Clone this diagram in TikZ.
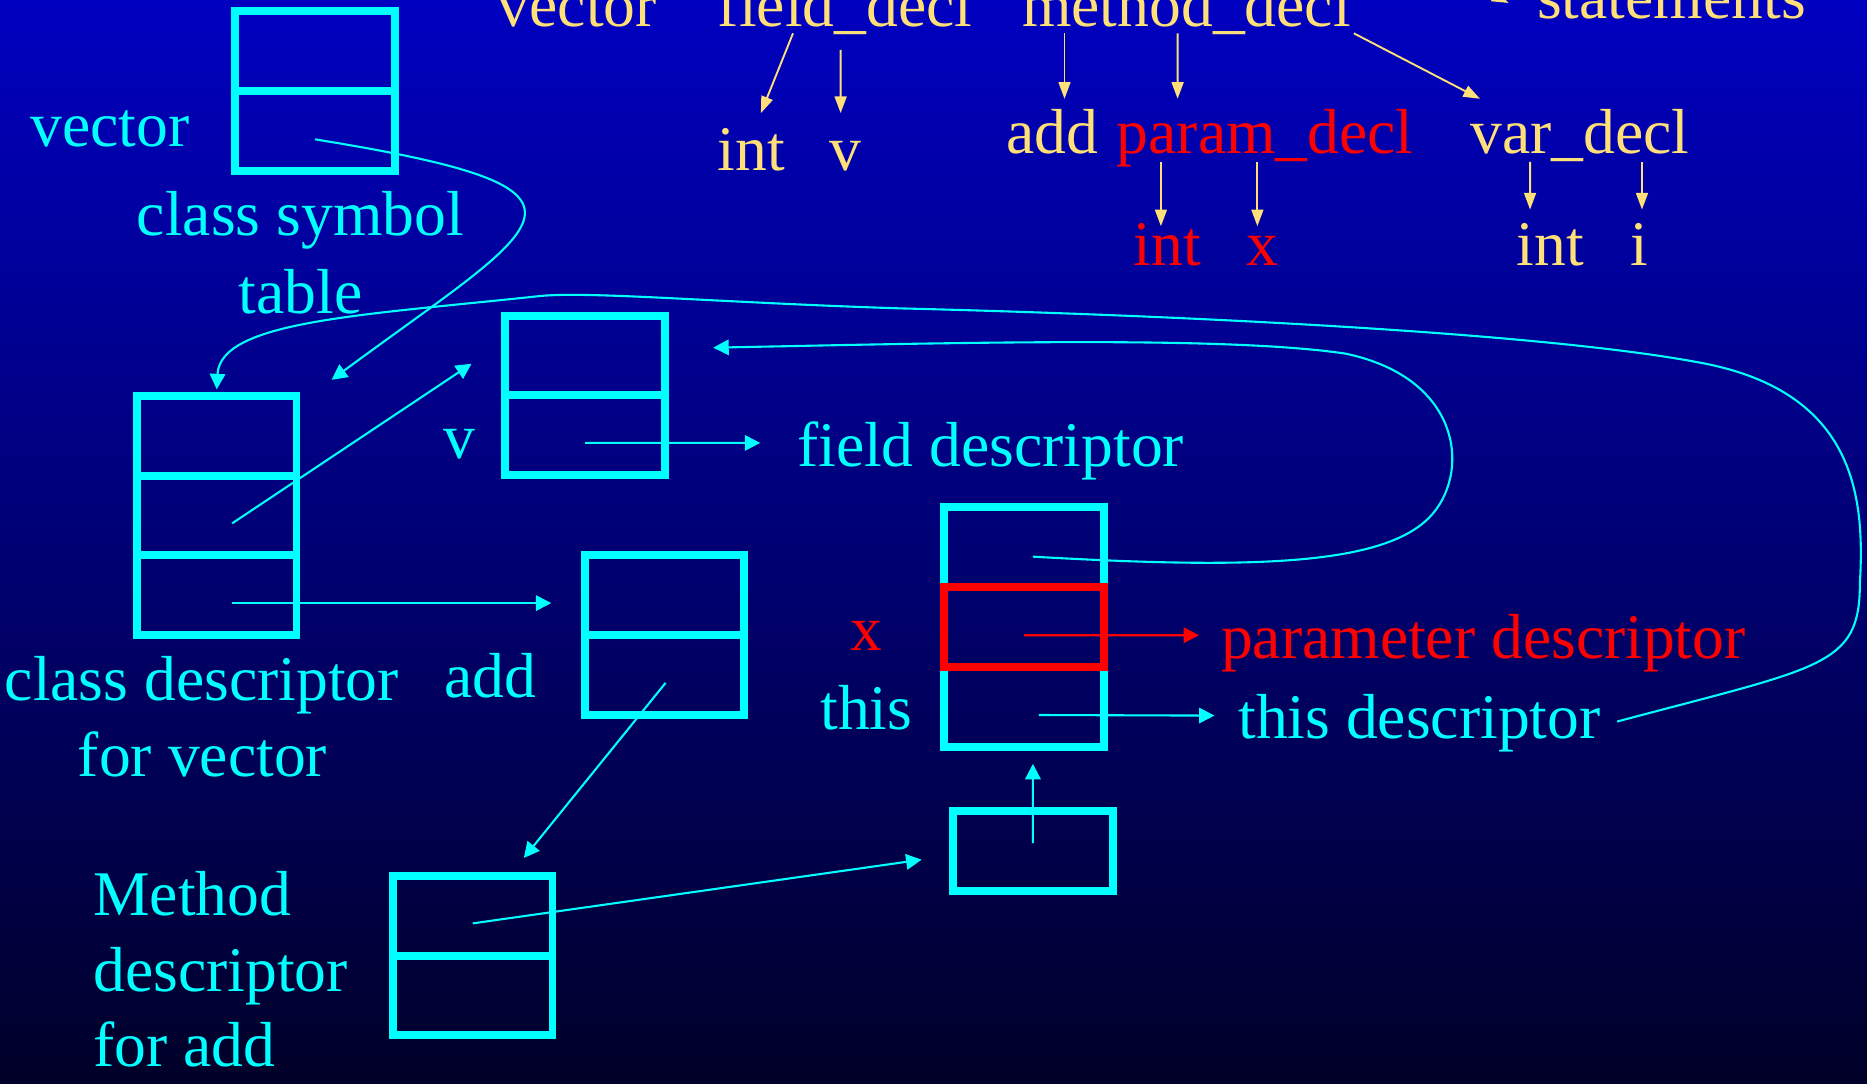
\documentclass[tikz,border=0pt]{standalone}
\usepackage{fontspec}
\setmainfont{Liberation Serif}
\usetikzlibrary{arrows.meta,calc}
\definecolor{aqua}{RGB}{0,255,255}
\definecolor{hired}{RGB}{255,0,0}
\definecolor{pale}{RGB}{255,224,120}
\definecolor{bgtop}{RGB}{0,0,192}
\definecolor{bgbot}{RGB}{0,0,40}
\tikzset{
	cell/.style={draw=aqua, line width=1.9pt, minimum width=1.34cm, minimum height=0.67cm, inner sep=0pt, outer sep=0pt},
	redcell/.style={cell, draw=hired},
	txt/.style={inner sep=0pt, outer sep=0pt, anchor=base west, font=\fontsize{15.2}{18}\selectfont},
	cy/.style={txt, text=aqua},
	ye/.style={txt, text=pale},
	rd/.style={txt, text=hired},
	ptr/.style={draw=aqua, line width=0.5pt, -{Triangle[length=0.13cm,width=0.13cm]}},
	rptr/.style={ptr, draw=hired},
	yptr/.style={draw=pale, line width=0.45pt, -{Triangle[length=0.14cm,width=0.1cm]}}
}

\begin{document}
\begin{tikzpicture}
	\useasboundingbox (0,0) rectangle (15.68,-9.10);
	\clip (0,0) rectangle (15.68,-9.10);
	\shade[top color=bgtop, bottom color=bgbot] (0,0) rectangle (15.68,-9.10);

	\node[ye] (topvec) at (4.18,-0.22) {vector};
	\node[ye] (fdecl) at (6.03,-0.22) {field\_decl};
	\node[ye] (mdecl) at (8.585,-0.22) {method\_decl};
	\node[ye] (stmt) at (12.91,-0.155) {statements};
	\node[ye] (intf) at (6.03,-1.43) {int};
	\node[ye] (vf) at (6.97,-1.43) {v};
	\node[ye] (addt) at (8.455,-1.29) {add};
	\node[rd] (pdecl) at (9.38,-1.29) {param\_decl};
	\node[ye] (vdecl) at (12.35,-1.29) {var\_decl};
	\node[rd] (intp) at (9.52,-2.23) {int};
	\node[rd] (xp) at (10.47,-2.23) {x};
	\node[ye] (intv) at (12.74,-2.23) {int};
	\node[ye] (iv) at (13.69,-2.23) {i};
	\coordinate (mroot) at (11.80,0.40);

	\draw[yptr] ($(fdecl.base west)+(0.63,-0.06)$) -- ($(intf.base west)+(0.36,0.48)$);
	\draw[yptr] ($(fdecl.base west)+(1.03,-0.20)$) -- ($(vf.base west)+(0.09,0.48)$);
	\draw[yptr] ($(mdecl.base west)+(0.355,-0.06)$) -- ($(addt.base west)+(0.485,0.46)$);
	\draw[yptr] ($(mdecl.base west)+(1.305,-0.06)$) -- ($(pdecl.base west)+(0.51,0.46)$);
	\draw[yptr] ($(mdecl.base west)+(2.785,-0.06)$) -- ($(vdecl.base west)+(0.08,0.46)$);
	\draw[yptr] ($(pdecl.base west)+(0.37,-0.07)$) -- ($(intp.base west)+(0.23,0.33)$);
	\draw[yptr] ($(pdecl.base west)+(1.18,-0.07)$) -- ($(xp.base west)+(0.09,0.33)$);
	\draw[yptr] ($(vdecl.base west)+(0.50,-0.07)$) -- ($(intv.base west)+(0.11,0.47)$);
	\draw[yptr] ($(vdecl.base west)+(1.44,-0.07)$) -- ($(iv.base west)+(0.10,0.47)$);
	\draw[yptr] (mroot) -- ($(stmt.base west)+(-0.24,0.13)$);

	\node[cy] (veclbl) at (0.255,-1.23) {vector};
	\node[cy] (cstlbl) at (1.15,-1.98) {class symbol};
	\node[cy] (cstlblb) at (2.005,-2.63) {table};
	\node[cy] (vlbl) at (3.725,-3.85) {v};
	\node[cy] (fdesc) at (6.695,-3.92) {field descriptor};
	\node[cy] (cdlbl) at (0.04,-5.88) {class descriptor};
	\node[cy] (cdlblb) at (0.655,-6.525) {for vector};
	\node[cy] (addlbl) at (3.735,-5.86) {add};
	\node[rd] (xlbl) at (7.14,-5.46) {x};
	\node[cy] (thislbl) at (6.89,-6.13) {this};
	\node[rd] (pdesc) at (10.255,-5.53) {parameter descriptor};
	\node[cy] (tdesc) at (10.40,-6.20) {this descriptor};
	\node[cy] (mdlbl) at (0.784,-7.685) {Method};
	\node[cy] (mdlblb) at (0.784,-8.33) {descriptor};
	\node[cy] (mdlblc) at (0.784,-8.96) {for add};

	\node[cell] (cst1) at (2.645,-0.43) {};
	\node[cell] (cst2) at (2.645,-1.10) {};
	\node[cell] (cd1) at (1.82,-3.66) {};
	\node[cell] (cd2) at (1.82,-4.33) {};
	\node[cell] (cd3) at (1.82,-5.00) {};
	\node[cell] (v1) at (4.915,-2.985) {};
	\node[cell] (v2) at (4.915,-3.655) {};
	\node[cell] (add1) at (5.58,-5.00) {};
	\node[cell] (add2) at (5.58,-5.67) {};
	\node[cell] (th1) at (8.60,-4.595) {};
	\node[cell] (th3) at (8.60,-5.935) {};
	\node[redcell] (th2) at (8.60,-5.265) {};
	\node[cell] (md1) at (3.97,-7.69) {};
	\node[cell] (md2) at (3.97,-8.36) {};
	\node[cell] (sb) at (8.675,-7.15) {};

	\draw[ptr] ([yshift=-0.07cm]cst2.center) .. controls (5.30,-1.60) and (4.60,-1.85) .. ($(cd1.north east)+(0.295,0.135)$);
	\draw[ptr] ($(tdesc.base east)+(0.14,0.14)$) .. controls (15.30,-5.60) and (15.62,-5.60) .. (15.62,-4.90)
		.. controls (15.66,-4.20) and (15.60,-3.30) .. (14.30,-3.05)
		.. controls (13.00,-2.80) and (10.00,-2.65) .. (7.56,-2.59)
		.. controls (6.00,-2.54) and (4.90,-2.44) .. (4.50,-2.49)
		.. controls (3.00,-2.65) and (1.85,-2.70) .. ([yshift=0.055cm]cd1.north);
	\draw[ptr] ($(cd2.center)+(0.13,-0.065)$) -- ($(v1.west)+(-0.285,-0.07)$);
	\draw[ptr] ($(cd3.center)+(0.13,-0.065)$) -- ($(add1.west)+(-0.28,-0.065)$);
	\draw[ptr] ([yshift=-0.065cm]v2.center) -- ($(fdesc.base west)+(-0.31,0.20)$);
	\draw[ptr] ($(th1.center)+(0.075,-0.08)$) .. controls (10.50,-4.78) and (11.60,-4.75) .. (12.00,-4.35)
		.. controls (12.35,-4.00) and (12.30,-3.18) .. (11.30,-2.97)
		.. controls (10.30,-2.82) and (8.00,-2.88) .. ($(v1.east)+(0.405,0.065)$);
	\draw[ptr] ($(add2.center)+(0.01,-0.065)$) -- ($(md1.north east)+(-0.24,0.15)$);
	\draw[ptr] ([yshift=-0.065cm]md1.center) -- ($(sb.west)+(-0.265,-0.07)$);
	\draw[ptr] ([yshift=0.07cm]sb.center) -- ($(th3.south)+(0.075,-0.145)$);
	\draw[rptr] ([yshift=-0.07cm]th2.center) -- ($(pdesc.base west)+(-0.185,0.195)$);
	\draw[ptr] ($(th3.center)+(0.125,-0.07)$) -- ($(tdesc.base west)+(-0.20,0.19)$);
\end{tikzpicture}
\end{document}
